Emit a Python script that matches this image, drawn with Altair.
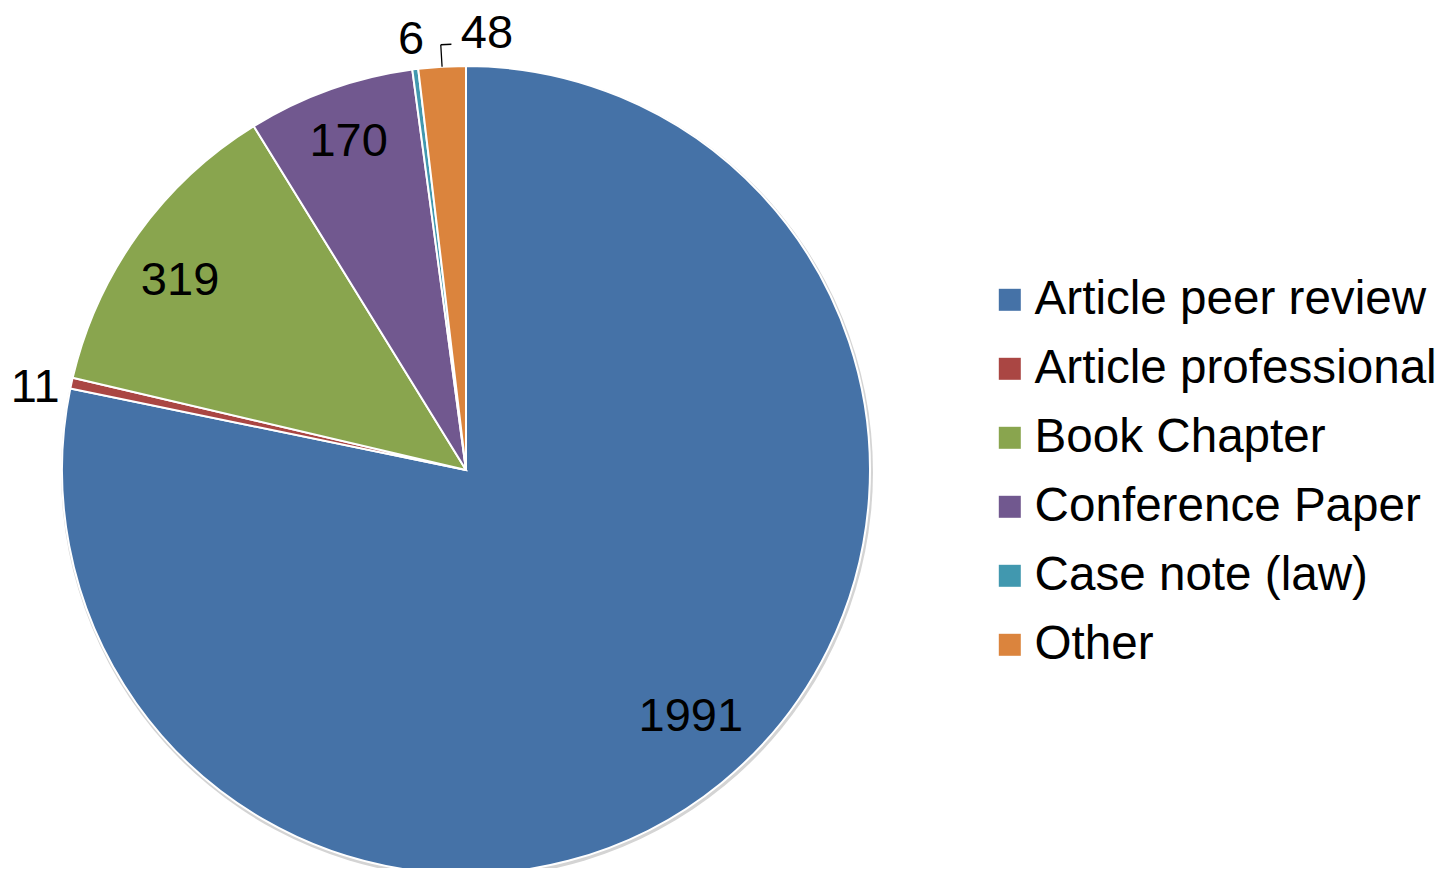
import altair as alt
import pandas as pd

categories = ["Article peer review", "Article professional", "Book Chapter",
              "Conference Paper", "Case note (law)", "Other"]
values = [1991, 11, 319, 170, 6, 48]
colors = ["#4572A7", "#AA4643", "#89A54E", "#71588F", "#4198AF", "#DB843D"]

df = pd.DataFrame({
    "category": categories,
    "value": values,
    "idx": list(range(len(categories))),
})

CX, CY, R = 458, 462, 404
FONT = "Liberation Sans"
FS = 47

# label style per category: (radius, dx, dy)
label_style = {
    "Article peer review": (340, 10, -17),
    "Article professional": (438, -3, 12),
    "Book Chapter": (340, -10, 10),
    "Conference Paper": (340, -3, -8),
    "Case note (law)": (438, 0, 5),
    "Other": (440, 47, 3),
}

color = alt.Color(
    "category:N",
    scale=alt.Scale(domain=categories, range=colors),
    legend=alt.Legend(
        orient="none", legendX=978, legendY=268, title=None,
        symbolType="square", symbolSize=484, symbolStrokeWidth=0,
        labelFontSize=47.6, labelFont=FONT, labelColor="black",
        rowPadding=20, labelOffset=1, labelLimit=600,
    ),
    sort=categories,
)

base = alt.Chart(df).transform_joinaggregate(
    total="sum(value)"
).transform_window(
    cum="sum(value)", sort=[alt.SortField("idx")]
).transform_calculate(
    mid="(datum.cum - datum.value / 2) / datum.total * 2 * PI",
    mid2="(datum.cum - datum.value / 2) / datum.total * 2 * PI + 0.025",
)

shadow = alt.Chart(df).transform_aggregate(total="sum(value)").mark_arc(
    theta=0, theta2=6.2832, outerRadius=R + 2, color="#d4d4d4"
).encode(x=alt.value(CX + 1), y=alt.value(CY + 2))

pie = alt.Chart(df).mark_arc(outerRadius=R, stroke="white", strokeWidth=2).encode(
    theta=alt.Theta("value:Q"),
    color=color,
    order=alt.Order("idx:Q"),
    x=alt.value(CX),
    y=alt.value(CY),
)

label_layers = []
for cat in categories:
    r, dx, dy = label_style[cat]
    label_layers.append(
        base.transform_filter(alt.datum.category == cat).mark_text(
            radius=r, fontSize=FS, font=FONT, color="black", dx=dx, dy=dy
        ).encode(
            theta=alt.Theta("mid:Q", scale=None, stack=False),
            text="value:Q", x=alt.value(CX), y=alt.value(CY),
        )
    )

other = base.transform_filter(alt.datum.category == "Other")
leader_radial = other.mark_arc(
    radius=R, radius2=426, stroke="black", strokeWidth=1.3, fillOpacity=0
).encode(
    theta=alt.Theta("mid:Q", scale=None, stack=False),
    theta2="mid:Q", x=alt.value(CX), y=alt.value(CY),
)
leader_flat = other.mark_arc(
    radius=426, radius2=426, stroke="black", strokeWidth=1.3, fillOpacity=0
).encode(
    theta=alt.Theta("mid:Q", scale=None, stack=False),
    theta2="mid2:Q", x=alt.value(CX), y=alt.value(CY),
)

chart = alt.layer(shadow, pie, leader_radial, leader_flat, *label_layers).properties(
    width=1430, height=860, padding=0, autosize="none"
).configure_view(strokeWidth=0)

chart.save("out.html", embed_options={"renderer": "svg", "actions": False})
